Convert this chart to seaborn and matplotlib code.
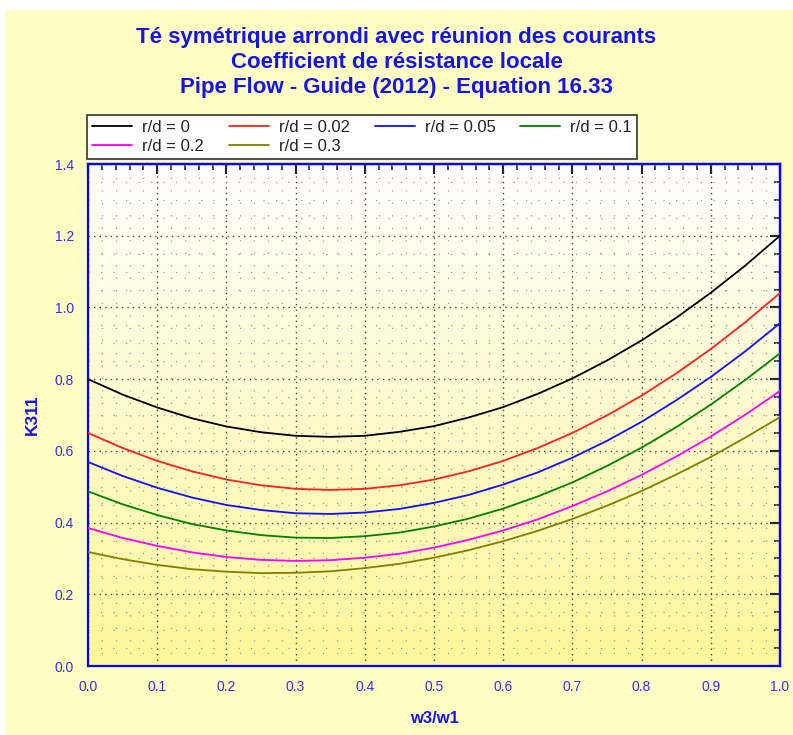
import numpy as np
import pandas as pd
import seaborn as sb
import matplotlib.pyplot as plt
from matplotlib.colors import LinearSegmentedColormap
from matplotlib.ticker import MultipleLocator, NullFormatter

# values
w3_w1 = [0.0, 0.05, 0.1, 0.15, 0.2, 0.25, 0.3, 0.35, 0.4, 0.45, 0.5,
         0.55, 0.6, 0.65, 0.7, 0.75, 0.8, 0.85, 0.9, 0.95, 1.0]
k_rd_0 = [0.800, 0.757, 0.721, 0.691, 0.668, 0.652, 0.642, 0.639, 0.642, 0.653, 0.669,
          0.693, 0.722, 0.759, 0.802, 0.852, 0.908, 0.971, 1.041, 1.117, 1.200]
k_rd_002 = [0.650, 0.608, 0.572, 0.543, 0.520, 0.504, 0.494, 0.491, 0.494, 0.504, 0.520,
            0.543, 0.572, 0.608, 0.650, 0.699, 0.754, 0.816, 0.884, 0.959, 1.040]
k_rd_005 = [0.569, 0.530, 0.497, 0.470, 0.449, 0.435, 0.426, 0.424, 0.428, 0.438, 0.455,
            0.477, 0.506, 0.540, 0.581, 0.628, 0.681, 0.741, 0.806, 0.878, 0.956]
k_rd_01 = [0.487, 0.451, 0.421, 0.396, 0.378, 0.365, 0.358, 0.357, 0.362, 0.372, 0.389,
           0.411, 0.439, 0.473, 0.512, 0.558, 0.609, 0.666, 0.729, 0.798, 0.872]
k_rd_02 = [0.385, 0.357, 0.335, 0.317, 0.304, 0.296, 0.293, 0.295, 0.302, 0.313, 0.330,
           0.352, 0.378, 0.409, 0.446, 0.487, 0.533, 0.584, 0.640, 0.701, 0.767]
k_rd_03 = [0.318, 0.298, 0.282, 0.270, 0.263, 0.259, 0.260, 0.264, 0.273, 0.285, 0.302,
           0.323, 0.348, 0.377, 0.410, 0.447, 0.488, 0.534, 0.583, 0.637, 0.694]

labels = ["r/d = 0", "r/d = 0.02", "r/d = 0.05", "r/d = 0.1", "r/d = 0.2", "r/d = 0.3"]
series = [k_rd_0, k_rd_002, k_rd_005, k_rd_01, k_rd_02, k_rd_03]
colors = ["#000000", "#FF2020", "#1010FF", "#008000", "#FF00FF", "#808000"]

df = pd.concat([pd.DataFrame({"w3/w1": w3_w1, "K311": s, "serie": lab})
                for lab, s in zip(labels, series)])

sb.set_style("white")
plt.rcParams['font.family'] = ['Liberation Sans', 'DejaVu Sans']

blue = "#1414F0"
tick_blue = "#3030F0"
fig = plt.figure(figsize=(7.93, 7.35), dpi=100, facecolor="#FFFFC4")
# white strip at top / left like the reference screenshot
fig.patches.append(plt.Rectangle((0, 1 - 9 / 735), 1, 9 / 735, transform=fig.transFigure,
                                 color="white", zorder=0))
fig.patches.append(plt.Rectangle((0, 0), 4 / 793, 1, transform=fig.transFigure,
                                 color="white", zorder=0))

ax = fig.add_axes([88 / 793, 1 - 666 / 735, 692 / 793, 502 / 735])

# gradient background of the plot area
cmap = LinearSegmentedColormap.from_list("bg", ["#FFF79A", "#FFFFFF"])
ax.imshow(np.linspace(0, 1, 256).reshape(-1, 1), cmap=cmap, origin="lower",
          extent=[0, 1, 0, 1.4], aspect="auto", zorder=0)

sb.lineplot(data=df, x="w3/w1", y="K311", hue="serie", palette=colors,
            linewidth=1.3, ax=ax, zorder=3)

ax.set_xlim(0, 1)
ax.set_ylim(0, 1.4)
ax.xaxis.set_major_locator(MultipleLocator(0.1))
ax.xaxis.set_minor_locator(MultipleLocator(0.02))
ax.yaxis.set_major_locator(MultipleLocator(0.2))
ax.yaxis.set_minor_locator(MultipleLocator(0.05))
ax.xaxis.set_major_formatter(plt.FormatStrFormatter("%.1f"))
ax.yaxis.set_major_formatter(plt.FormatStrFormatter("%.1f"))

ax.grid(True, which="major", color="#444444", linestyle=(0, (1, 3)), linewidth=1.0, zorder=1)
ax.grid(True, which="minor", color="#9a9a9a", linestyle=(0, (1, 9)), linewidth=0.9, zorder=1)
ax.set_axisbelow(True)

for sp in ax.spines.values():
    sp.set_color("#0000FF")
    sp.set_linewidth(1.6)
    sp.set_visible(True)

ax.tick_params(which="both", direction="inout", color="#222222")
ax.tick_params(which="major", length=14, width=1.5, labelsize=10, labelcolor=tick_blue, pad=3)
ax.tick_params(which="minor", length=8, width=1.2)

# inward ticks on the top and right sides
top = ax.secondary_xaxis("top")
top.xaxis.set_major_locator(MultipleLocator(0.1))
top.xaxis.set_minor_locator(MultipleLocator(0.02))
top.xaxis.set_major_formatter(NullFormatter())
right = ax.secondary_yaxis("right")
right.yaxis.set_major_locator(MultipleLocator(0.2))
right.yaxis.set_minor_locator(MultipleLocator(0.05))
right.yaxis.set_major_formatter(NullFormatter())
for sec in (top, right):
    sec.tick_params(which="both", direction="in", color="#222222")
    sec.tick_params(which="major", length=7, width=1.5)
    sec.tick_params(which="minor", length=4, width=1.2)
    for sp in sec.spines.values():
        sp.set_color("#0000FF")
        sp.set_linewidth(1.6)

ax.set_xlabel("w3/w1", color=blue, fontsize=12, fontweight="bold", labelpad=12)
ax.set_ylabel("K311", color=blue, fontsize=12.5, fontweight="bold", labelpad=11)

fig.text(0.5, 1 - 37 / 735, "Té symétrique arrondi avec réunion des courants",
         ha="center", va="center", color=blue, fontsize=16, fontweight="bold")
fig.text(0.5, 1 - 62 / 735, "Coefficient de résistance locale",
         ha="center", va="center", color=blue, fontsize=16, fontweight="bold")
fig.text(0.5, 1 - 87 / 735, "Pipe Flow - Guide (2012) - Equation 16.33",
         ha="center", va="center", color=blue, fontsize=16, fontweight="bold")

handles, labs = ax.get_legend_handles_labels()
ax.get_legend().remove()
order = [0, 4, 1, 5, 2, 3]
leg = fig.legend([handles[i] for i in order], [labs[i] for i in order],
                 loc="upper left", bbox_to_anchor=(87 / 793, 1 - 155 / 735, 550 / 793, 40 / 735),
                 bbox_transform=fig.transFigure, mode="expand", ncol=4, fontsize=12,
                 frameon=True, fancybox=False, edgecolor="#333333", framealpha=1.0,
                 handlelength=2.4, handletextpad=0.6, columnspacing=0.9,
                 labelspacing=0.25, borderpad=0.3, borderaxespad=0)
leg.get_frame().set_linewidth(1.2)
leg.get_frame().set_facecolor("white")
for t in leg.get_texts():
    t.set_color("#222222")

fig.savefig("out.png", dpi=100, facecolor=fig.get_facecolor())
